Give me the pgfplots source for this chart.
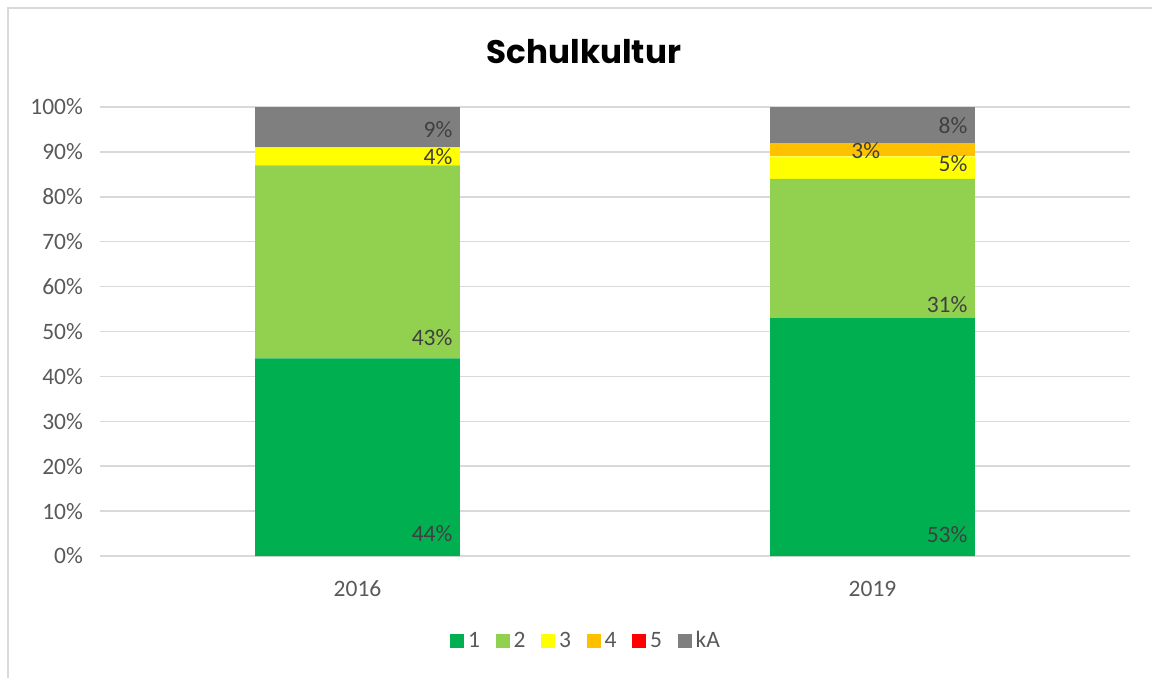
\documentclass[border=0pt]{standalone}
\usepackage{fontspec}
\setmainfont{Carlito}
\newfontfamily\titlefont{Poppins}
\usepackage{pgfplots}
\pgfplotsset{compat=1.18}
\definecolor{c1}{HTML}{00B050}
\definecolor{c2}{HTML}{92D050}
\definecolor{c3}{HTML}{FFFF00}
\definecolor{c4}{HTML}{FFC000}
\definecolor{c5}{HTML}{FF0000}
\definecolor{ckA}{HTML}{7F7F7F}
\definecolor{tickc}{HTML}{595959}
\definecolor{labc}{HTML}{404040}
\definecolor{gridc}{HTML}{D9D9D9}
\tikzset{lab/.style={font=\fontsize{11.75}{13}\selectfont, text=labc, inner sep=0pt}}
\begin{document}
\begin{tikzpicture}
\useasboundingbox (0,0) rectangle (576pt,338.5pt);
\draw[gridc, line width=0.6pt] (4pt,-2pt) -- (4pt,334.5pt) -- (580pt,334.5pt);
\node[font=\titlefont\bfseries\fontsize{16.3}{19}\selectfont, text=black] at (292pt,312.5pt) {Schulkultur};
\begin{axis}[
  at={(50pt,60.5pt)}, anchor=south west,
  scale only axis, width=515pt, height=224.5pt,
  ybar stacked, bar width=0.398,
  xmin=-0.5, xmax=1.5, ymin=0, ymax=100,
  xtick={0,1}, xticklabels={2016,2019},
  ytick={0,10,20,30,40,50,60,70,80,90,100},
  yticklabels={0\%,10\%,20\%,30\%,40\%,50\%,60\%,70\%,80\%,90\%,100\%},
  axis line style={draw=none},
  major tick length=0pt,
  ymajorgrids, grid style={gridc, line width=0.75pt},
  tick label style={font=\fontsize{11.75}{13}\selectfont, text=tickc},
  yticklabel style={xshift=-5pt},
  xticklabel style={yshift=-9pt},
  clip=false,
  legend columns=-1,
  legend style={draw=none, fill=none, at={(0.4728,-0.1893)}, anchor=center,
    font=\fontsize{11.75}{13}\selectfont, text=tickc,
    /tikz/every even column/.append style={column sep=5.8pt},
    /tikz/every odd column/.append style={column sep=0pt}},
]
\addplot[fill=c1, draw=none, legend image code/.code={\fill[c1] (0pt,-3.5pt) rectangle (7pt,3.5pt);}] coordinates {(0,44) (1,53)};
\addplot[fill=c2, draw=none, legend image code/.code={\fill[c2] (0pt,-3.5pt) rectangle (7pt,3.5pt);}] coordinates {(0,43) (1,31)};
\addplot[fill=c3, draw=none, legend image code/.code={\fill[c3] (0pt,-3.5pt) rectangle (7pt,3.5pt);}] coordinates {(0,4) (1,5)};
\addplot[fill=c4, draw=none, legend image code/.code={\fill[c4] (0pt,-3.5pt) rectangle (7pt,3.5pt);}] coordinates {(0,0) (1,3)};
\addplot[fill=c5, draw=none, legend image code/.code={\fill[c5] (0pt,-3.5pt) rectangle (7pt,3.5pt);}] coordinates {(0,0) (1,0)};
\addplot[fill=ckA, draw=none, legend image code/.code={\fill[ckA] (0pt,-3.5pt) rectangle (7pt,3.5pt);}] coordinates {(0,9) (1,8)};
\legend{1,2,3,4,5,kA}
\coordinate (a1) at (axis cs:0.185,5.1);
\coordinate (a2) at (axis cs:0.185,48.6);
\coordinate (a3) at (axis cs:0.185,88.9);
\coordinate (a6) at (axis cs:0.185,94.9);
\coordinate (b1) at (axis cs:1.185,4.7);
\coordinate (b2) at (axis cs:1.185,55.9);
\coordinate (b3) at (axis cs:1.185,87.3);
\coordinate (b4) at (axis cs:0.987,90.4);
\coordinate (b6) at (axis cs:1.185,95.8);
\end{axis}
\node[lab, anchor=east] at (a1) {44\%};
\node[lab, anchor=east] at (a2) {43\%};
\node[lab, anchor=east] at (a3) {4\%};
\node[lab, anchor=east] at (a6) {9\%};
\node[lab, anchor=east] at (b1) {53\%};
\node[lab, anchor=east] at (b2) {31\%};
\node[lab, anchor=east] at (b3) {5\%};
\node[lab, anchor=center] at (b4) {3\%};
\node[lab, anchor=east] at (b6) {8\%};
\end{tikzpicture}
\end{document}
